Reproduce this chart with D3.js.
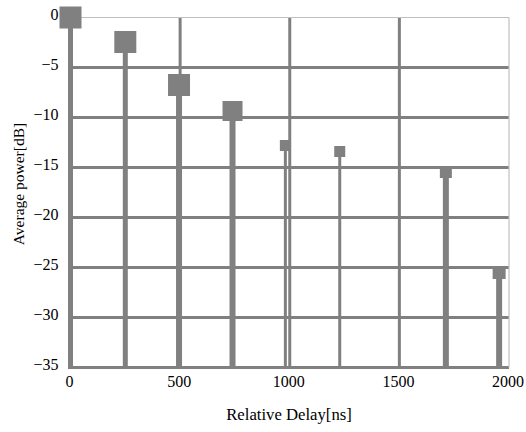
<!DOCTYPE html>
<html>
<head>
<meta charset="utf-8">
<script src="https://cdn.jsdelivr.net/npm/d3@7"></script>
</head>
<body style="margin:0;padding:0;background:#fff">
<svg id="chart" width="526" height="432" style="display:block"></svg>
<script>
// ---- data ----
const delays = [0, 250, 495, 739, 980, 1228, 1712, 1955];      // ns
const powers = [0, -2.45, -6.75, -9.35, -12.8, -13.4, -15.45, -25.5]; // dB
const xTicks = [0, 500, 1000, 1500, 2000];
const yTicks = [0, -5, -10, -15, -20, -25, -30, -35];
const xTitle = "Relative Delay[ns]";
const yTitle = "Average power[dB]";

// ---- per-point styling (kept apart from the data) ----
const markerSizes = [22, 22, 22, 20, 11, 11, 12, 13];
const stemWidths  = [5, 5, 6, 6, 3, 3, 6, 6];

const GREY = "#808080";
const LIGHT = "#c0c0c0";
const FONT = "Liberation Serif";

const svg = d3.select("#chart");
const x = d3.scaleLinear().domain([0, 2000]).range([70.5, 509]);
const y = d3.scaleLinear().domain([-35, 0]).range([367.5, 17.5]);

const points = delays.map((d, i) => ({ d, p: powers[i], i }));

// grid: horizontal lines (below 0) and vertical lines (inner ticks)
const grid = svg.append("g");
grid.selectAll("line.h").data(yTicks.filter(v => v < 0)).join("line")
  .attr("class", "h")
  .attr("x1", x(0) - 1.5).attr("x2", x(2000))
  .attr("y1", d => y(d)).attr("y2", d => y(d))
  .attr("stroke", GREY).attr("stroke-width", 3);
grid.selectAll("line.v").data(xTicks.filter(v => v > 0 && v < 2000)).join("line")
  .attr("class", "v")
  .attr("x1", d => x(d)).attr("x2", d => x(d))
  .attr("y1", y(0)).attr("y2", y(-35))
  .attr("stroke", GREY).attr("stroke-width", 3);
// light top and right frame
grid.append("line")
  .attr("x1", x(0)).attr("x2", x(2000)).attr("y1", y(0)).attr("y2", y(0))
  .attr("stroke", LIGHT).attr("stroke-width", 1);
grid.append("line")
  .attr("x1", x(2000)).attr("x2", x(2000)).attr("y1", y(0)).attr("y2", y(-35))
  .attr("stroke", LIGHT).attr("stroke-width", 1.2);

// stems
svg.append("g").selectAll("line").data(points).join("line")
  .attr("x1", d => x(d.d)).attr("x2", d => x(d.d))
  .attr("y1", d => y(d.p)).attr("y2", y(-35) + 1.5)
  .attr("stroke", GREY).attr("stroke-width", d => stemWidths[d.i]);

// markers
svg.append("g").selectAll("rect").data(points).join("rect")
  .attr("x", d => x(d.d) - markerSizes[d.i] / 2)
  .attr("y", d => y(d.p) - markerSizes[d.i] / 2)
  .attr("width", d => markerSizes[d.i])
  .attr("height", d => markerSizes[d.i])
  .attr("fill", GREY);

// axes (labels only)
const yAxis = svg.append("g")
  .attr("transform", `translate(${x(0)},0)`)
  .call(d3.axisLeft(y).tickValues(yTicks).tickFormat(d3.format("d")).tickSize(0).tickPadding(12));
yAxis.attr("font-family", FONT).attr("font-size", 16);
yAxis.select(".domain").remove();
yAxis.selectAll("text")
  .attr("x", -12).attr("dy", "0.1em")
  .attr("font-family", FONT).attr("font-size", 16).attr("fill", "#000");

const xAxis = svg.append("g")
  .attr("transform", `translate(0,${y(-35)})`)
  .call(d3.axisBottom(x).tickValues(xTicks).tickFormat(d3.format("d")).tickSize(0).tickPadding(8));
xAxis.attr("font-family", FONT).attr("font-size", 16);
xAxis.select(".domain").remove();
xAxis.selectAll("text")
  .attr("dx", "-1.5").attr("y", 19.5).attr("dy", 0)
  .attr("font-family", FONT).attr("font-size", 16).attr("fill", "#000");

// titles
svg.append("text")
  .attr("x", 289).attr("y", 419.5)
  .attr("text-anchor", "middle")
  .attr("font-family", FONT).attr("font-size", 16.7).attr("fill", "#000")
  .text(xTitle);

svg.append("text")
  .attr("transform", "translate(23.5,184) rotate(-90)")
  .attr("text-anchor", "middle")
  .attr("font-family", FONT).attr("font-size", 15.5).attr("fill", "#000")
  .text(yTitle);
</script>
</body>
</html>
